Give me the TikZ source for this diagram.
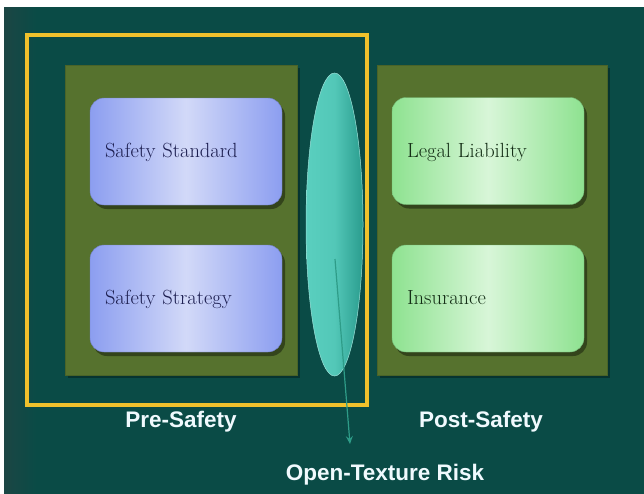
\documentclass[tikz,border=0pt]{standalone}
\usepackage{fontspec}
\newfontfamily\labelfont{Liberation Sans}
\usetikzlibrary{shadows,arrows.meta,shapes.geometric}
\definecolor{bgteal}{HTML}{0A4B46}
\definecolor{stripec}{HTML}{1C4644}
\definecolor{panelc}{HTML}{56722E}
\definecolor{paneledge}{HTML}{4A6328}
\definecolor{frameyel}{HTML}{F0C12C}
\definecolor{blueedge}{HTML}{8C9EF0}
\definecolor{bluemid}{HTML}{D2D9F8}
\definecolor{greenedge}{HTML}{8EE290}
\definecolor{greenmid}{HTML}{D8F6D8}
\definecolor{bluetext}{HTML}{1C1E50}
\definecolor{greentext}{HTML}{142E16}
\definecolor{ovalleft}{HTML}{5ACFBF}
\definecolor{ovalright}{HTML}{2A9C8E}
\definecolor{arrowc}{HTML}{2E9C88}
\begin{document}
\begin{tikzpicture}[x=1pt,y=-1pt,
  panel/.style={draw=paneledge, line width=1pt, fill=panelc, minimum height=310pt,
    drop shadow={shadow xshift=3pt, shadow yshift=-3pt, opacity=0.3, fill=black}},
  bluebox/.style={rounded corners=14pt, minimum width=192pt, minimum height=107pt,
    left color=blueedge, right color=blueedge, middle color=bluemid,
    draw=blueedge!80!black, line width=0.4pt,
    drop shadow={shadow xshift=3pt, shadow yshift=-4pt, opacity=0.4, fill=black},
    text width=162pt, align=left, inner xsep=15pt, text height=12pt, text depth=0pt,
    font=\fontsize{20.5}{24}\selectfont\addfontfeature{FakeBold=0.6}, text=bluetext},
  greenbox/.style={bluebox, left color=greenedge, right color=greenedge, middle color=greenmid,
    draw=greenedge!80!black, text=greentext},
  frame/.style={draw=frameyel, line width=4.5pt, minimum width=340pt, minimum height=370pt},
  oval/.style={ellipse, minimum width=57pt, minimum height=303pt, inner sep=0pt,
    left color=ovalleft, right color=ovalright, middle color=ovalleft!85!ovalright,
    draw=ovalleft!60!white, line width=0.5pt},
  caption/.style={anchor=base, text=white!94!cyan,
    font=\labelfont\bfseries\fontsize{22.5}{26}\selectfont},
  riskarrow/.style={draw=arrowc, line width=1.2pt, -{Stealth[length=8pt,width=7pt,inset=3pt]}}
]
\useasboundingbox (0,0) rectangle (644,493);
\fill[white] (-2,-2) rectangle (646,495);
\fill[bgteal] (4,7) rectangle (646,495);
\shade[left color=stripec, right color=bgteal] (4,7) rectangle (36,495);

% panels
\node[panel, minimum width=232pt] (lpanel) at (181,220) {};
\node[panel, minimum width=230pt] (rpanel) at (492,220) {};

% boxes
\node[bluebox] (std) at (186,151.5) {Safety Standard};
\node[bluebox] (strat) at (186,298.5) {Safety Strategy};
\node[greenbox] (legal) at (488,151) {Legal Liability};
\node[greenbox] (ins) at (488,298.5) {Insurance};

% yellow frame
\node[frame] (pre) at (197,220) {};

% oval
\node[oval] (risk) at (334.5,224.5) {};

% captions
\node[caption] (prelab) at (181,427) {Pre-Safety};
\node[caption] (postlab) at (481,427) {Post-Safety};
\node[caption] (risklab) at (385,480) {Open-Texture Risk};

% arrow
\coordinate (astart) at (335,259);
\coordinate (aend) at (350,444);
\draw[riskarrow] (astart) -- (aend);
\end{tikzpicture}
\end{document}
